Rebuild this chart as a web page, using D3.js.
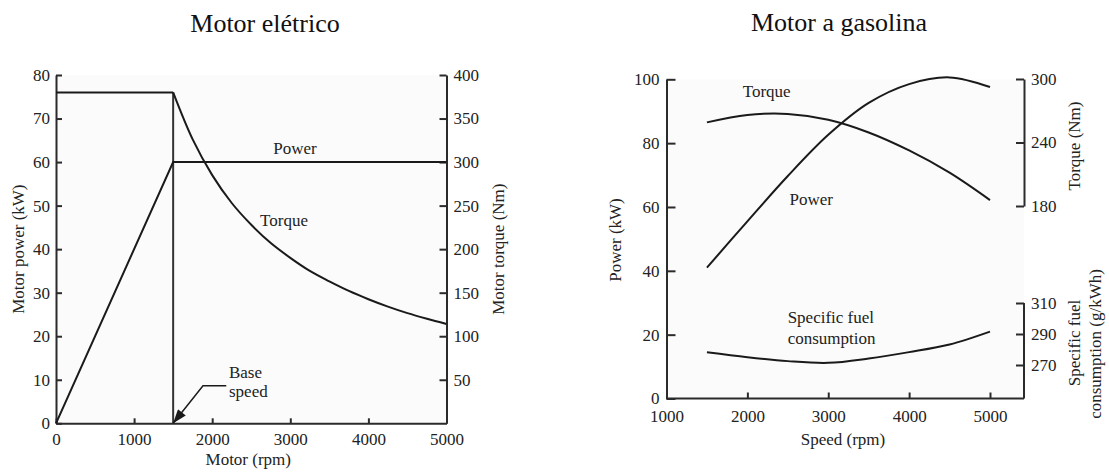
<!DOCTYPE html>
<html>
<head>
<meta charset="utf-8">
<script src="https://cdn.jsdelivr.net/npm/d3@7"></script>
<style>
  body { margin: 0; background: #fff; }
  svg text { font-family: "Liberation Serif", "Times New Roman", serif !important; fill: #222; }
  .axis path, .axis line { stroke: #2b2b2b; stroke-width: 2; }
  .axis text { font-size: 17px; }
  .curve { fill: none; stroke: #1a1a1a; stroke-width: 2; }
</style>
</head>
<body>
<svg id="chart" width="1109" height="472"></svg>
<script>
// ---- Motor elétrico (left) ----
const eRpmTicks = [0, 1000, 2000, 3000, 4000, 5000];
const ePowerTicks = [0, 10, 20, 30, 40, 50, 60, 70, 80];
const eTorqueTicks = [50, 100, 150, 200, 250, 300, 350, 400];
const baseSpeed = 1500;
// power (kW) vs rpm
const ePower = [[0, 0], [1500, 60], [5000, 60]];
// torque (Nm) vs rpm
const eTorque = [[0, 380], [1500, 380], [1750, 326], [2000, 285], [2250, 253], [2500, 228],
  [2750, 207], [3000, 190], [3250, 175], [3500, 163], [3750, 152], [4000, 142.5],
  [4250, 134], [4500, 126.5], [4750, 120], [5000, 114]];

// ---- Motor a gasolina (right) ----
const gRpmTicks = [1000, 2000, 3000, 4000, 5000];
const gPowerTicks = [0, 20, 40, 60, 80, 100];
const gTorqueTicks = [180, 240, 300];
const gSfcTicks = [270, 290, 310];
const gPower = [[1500, 41], [2000, 55.5], [2500, 69.7], [3000, 82.6], [3500, 92.6],
  [4000, 98.5], [4500, 100.6], [5000, 97.6]];
const gTorque = [[1500, 259], [2000, 266], [2500, 267], [3000, 261.5], [3500, 249.5],
  [4000, 232.5], [4500, 211.5], [5000, 185.6]];
const gSfc = [[1500, 278.2], [2000, 275], [2500, 272.5], [3000, 271.4], [3500, 274.2],
  [4000, 278.3], [4500, 283.2], [5000, 291.5]];

const svg = d3.select("#chart");

svg.append("defs").append("marker")
  .attr("id", "arrow")
  .attr("markerUnits", "userSpaceOnUse")
  .attr("viewBox", "0 0 14 10")
  .attr("refX", 14).attr("refY", 5)
  .attr("markerWidth", 15).attr("markerHeight", 10)
  .attr("orient", "auto")
  .append("path").attr("d", "M0,0 L14,5 L0,10 Z").attr("fill", "#1a1a1a");

// ================= left chart =================
const ex = d3.scaleLinear().domain([0, 5000]).range([56, 446.5]);
const eyP = d3.scaleLinear().domain([0, 80]).range([423.3, 75]);
const eyT = d3.scaleLinear().domain([0, 400]).range([423.3, 75]);

svg.append("rect").attr("x", ex(0)).attr("y", eyP(80))
  .attr("width", ex(5000) - ex(0)).attr("height", eyP(0) - eyP(80)).attr("fill", "#fbfbfb");

svg.append("text").attr("x", 265).attr("y", 32).attr("text-anchor", "middle")
  .style("font-size", "26px").style("fill", "#111").text("Motor elétrico");

svg.append("g").attr("class", "axis").attr("transform", `translate(0,${eyP(0)})`)
  .call(d3.axisBottom(ex).tickValues(eRpmTicks).tickFormat(d3.format("d")).tickSize(-5).tickSizeOuter(0).tickPadding(10));
svg.append("g").attr("class", "axis").attr("transform", `translate(${ex(0)},0)`)
  .call(d3.axisLeft(eyP).tickValues(ePowerTicks).tickSize(-6).tickSizeOuter(0).tickPadding(6));
svg.append("g").attr("class", "axis").attr("transform", `translate(${ex(5000)},0)`)
  .call(d3.axisRight(eyT).tickValues(eTorqueTicks).tickSize(-7).tickSizeOuter(0).tickPadding(7));

svg.append("text").attr("x", ex(2500) - 3).attr("y", 465).attr("text-anchor", "middle")
  .style("font-size", "17px").text("Motor (rpm)");
svg.append("text").attr("transform", `translate(24,${(eyP(0) + eyP(80)) / 2}) rotate(-90)`)
  .attr("text-anchor", "middle").style("font-size", "17px").text("Motor power (kW)");
svg.append("text").attr("transform", `translate(504,${(eyP(0) + eyP(80)) / 2}) rotate(-90)`)
  .attr("text-anchor", "middle").style("font-size", "17px").text("Motor torque (Nm)");

// base speed vertical line
svg.append("line").attr("class", "curve")
  .attr("x1", ex(baseSpeed)).attr("x2", ex(baseSpeed))
  .attr("y1", eyT(eTorque[1][1])).attr("y2", eyT(0))
  .style("stroke", "#333");

const eLineP = d3.line().x(d => ex(d[0])).y(d => eyP(d[1]));
const eLineT = d3.line().x(d => ex(d[0])).y(d => eyT(d[1]));
svg.append("path").attr("class", "curve").attr("d", eLineP(ePower));
svg.append("path").attr("class", "curve").attr("d", eLineT(eTorque.slice(0, 2)));
svg.append("path").attr("class", "curve").attr("d", eLineT.curve(d3.curveCatmullRom)(eTorque.slice(1)));

svg.append("text").attr("x", ex(3060)).attr("y", eyP(61.9)).attr("text-anchor", "middle")
  .style("font-size", "17px").text("Power");
svg.append("text").attr("x", ex(2920)).attr("y", eyP(45.4)).attr("text-anchor", "middle")
  .style("font-size", "17px").text("Torque");

// base speed annotation
svg.append("path").attr("fill", "none").attr("stroke", "#1a1a1a").attr("stroke-width", 1.5)
  .attr("marker-end", "url(#arrow)")
  .attr("d", `M${ex(2180)},${eyP(8.6)} L${ex(1882)},${eyP(8.6)} L${ex(baseSpeed)},${eyP(0)}`);
svg.append("text").attr("x", ex(2215)).attr("y", eyP(10.4)).style("font-size", "17px").text("Base");
svg.append("text").attr("x", ex(2215)).attr("y", eyP(6.1)).style("font-size", "17px").text("speed");

// ================= right chart =================
const gx = d3.scaleLinear().domain([1000, 5000]).range([666.5, 990]);
const gxEnd = 1024;
const gyP = d3.scaleLinear().domain([0, 100]).range([398.5, 79.3]);
const gyT = d3.scaleLinear().domain([180, 300]).range([206, 79]);
const gyS = d3.scaleLinear().domain([270, 310]).range([365, 303]);

svg.append("rect").attr("x", gx(1000)).attr("y", gyP(100))
  .attr("width", gxEnd - gx(1000)).attr("height", gyP(0) - gyP(100)).attr("fill", "#fbfbfb");

svg.append("text").attr("x", 839).attr("y", 31).attr("text-anchor", "middle")
  .style("font-size", "26px").style("fill", "#111").text("Motor a gasolina");

const gxAxis = svg.append("g").attr("class", "axis").attr("transform", `translate(0,${gyP(0)})`)
  .call(d3.axisBottom(gx).tickValues(gRpmTicks).tickFormat(d3.format("d")).tickSize(-6).tickSizeOuter(0).tickPadding(11));
gxAxis.select(".domain").attr("d", `M${gx(1000)},0H${gxEnd}`);

svg.append("g").attr("class", "axis").attr("transform", `translate(${gx(1000)},0)`)
  .call(d3.axisLeft(gyP).tickValues(gPowerTicks).tickSize(-9).tickSizeOuter(0).tickPadding(7));

svg.append("g").attr("class", "axis").attr("transform", `translate(${gxEnd},0)`)
  .call(d3.axisRight(gyT).tickValues(gTorqueTicks).tickSize(-8).tickSizeOuter(0).tickPadding(7));

const sfcAxis = svg.append("g").attr("class", "axis").attr("transform", `translate(${gxEnd},0)`)
  .call(d3.axisRight(gyS).tickValues(gSfcTicks).tickSize(-8).tickSizeOuter(0).tickPadding(7));
sfcAxis.select(".domain").attr("d", `M0,${gyS(310)}V${gyP(0)}`);

svg.selectAll(".axis").attr("font-family", null);

svg.append("text").attr("x", 843).attr("y", 445).attr("text-anchor", "middle")
  .style("font-size", "17px").text("Speed (rpm)");
svg.append("text").attr("transform", `translate(621,240) rotate(-90)`)
  .attr("text-anchor", "middle").style("font-size", "17px").text("Power (kW)");
svg.append("text").attr("transform", `translate(1080,146) rotate(-90)`)
  .attr("text-anchor", "middle").style("font-size", "17px").text("Torque (Nm)");
svg.append("text").attr("transform", `translate(1080,343) rotate(-90)`)
  .attr("text-anchor", "middle").style("font-size", "17px").text("Specific fuel");
svg.append("text").attr("transform", `translate(1101,344) rotate(-90)`)
  .attr("text-anchor", "middle").style("font-size", "17px").text("consumption (g/kWh)");

const gLineP = d3.line().curve(d3.curveCatmullRom).x(d => gx(d[0])).y(d => gyP(d[1]));
const gLineT = d3.line().curve(d3.curveCatmullRom).x(d => gx(d[0])).y(d => gyT(d[1]));
const gLineS = d3.line().curve(d3.curveCatmullRom).x(d => gx(d[0])).y(d => gyS(d[1]));
svg.append("path").attr("class", "curve").attr("d", gLineP(gPower));
svg.append("path").attr("class", "curve").attr("d", gLineT(gTorque));
svg.append("path").attr("class", "curve").attr("d", gLineS(gSfc));

svg.append("text").attr("x", gx(2239)).attr("y", gyP(94.3)).attr("text-anchor", "middle")
  .style("font-size", "17px").text("Torque");
svg.append("text").attr("x", gx(2790)).attr("y", gyP(60.6)).attr("text-anchor", "middle")
  .style("font-size", "17px").text("Power");
svg.append("text").attr("x", gx(2498)).attr("y", gyP(23.6)).style("font-size", "17px").text("Specific fuel");
svg.append("text").attr("x", gx(2498)).attr("y", gyP(17.0)).style("font-size", "17px").text("consumption");
</script>
</body>
</html>
